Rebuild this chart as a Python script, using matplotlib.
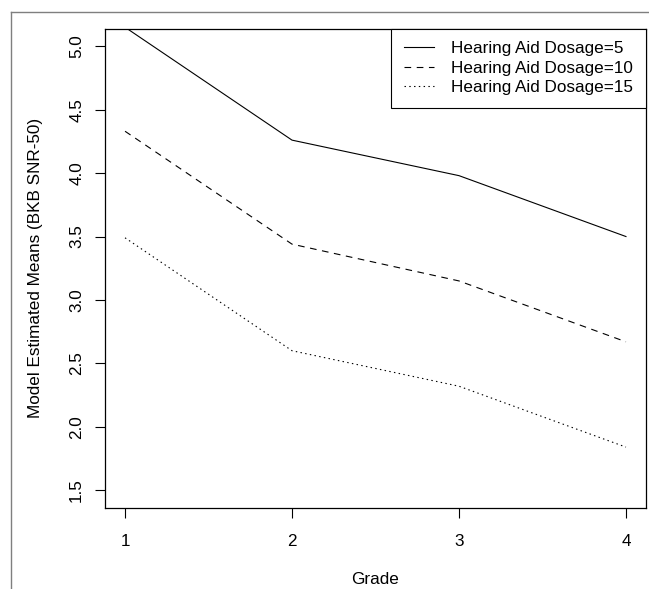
import matplotlib
matplotlib.use("Agg")
import matplotlib.pyplot as plt
from matplotlib.lines import Line2D

plt.rcParams['font.family'] = ['Liberation Sans', 'DejaVu Sans']

grade = [1, 2, 3, 4]
dosage_5 = [5.15, 4.26, 3.98, 3.50]
dosage_10 = [4.33, 3.44, 3.15, 2.67]
dosage_15 = [3.49, 2.60, 2.32, 1.84]
labels = ['Hearing Aid Dosage=5', 'Hearing Aid Dosage=10', 'Hearing Aid Dosage=15']
yticks = [1.5, 2.0, 2.5, 3.0, 3.5, 4.0, 4.5, 5.0]

fig = plt.figure(figsize=(6.49, 5.89), dpi=100)
ax = fig.add_axes([105 / 649, 1 - 508 / 589, 541 / 649, 479.5 / 589])

lw = 0.8
ax.plot(grade, dosage_5, color='black', lw=lw, linestyle='-', label=labels[0])
ax.plot(grade, dosage_10, color='black', lw=lw, linestyle=(0, (6, 5)), label=labels[1])
ax.plot(grade, dosage_15, color='black', lw=lw, linestyle=(0, (1.3, 3)), label=labels[2])

ax.set_xlim(0.88, 4.12)
ax.set_ylim(1.36, 5.14)
ax.set_xticks(grade)
ax.set_yticks(yticks)
ax.set_yticklabels([f'{v:.1f}' for v in yticks], rotation=90, va='center')
ax.tick_params(direction='out', length=7, width=0.8, labelsize=12.3, pad=8)
ax.tick_params(axis='x', pad=12)
for s in ax.spines.values():
    s.set_linewidth(0.9)

ax.set_xlabel('Grade', fontsize=12.3, labelpad=16)
ax.set_ylabel('Model Estimated Means (BKB SNR-50)', fontsize=12.3, labelpad=19)

leg = ax.legend(loc='upper right', borderaxespad=0, fancybox=False,
                edgecolor='black', framealpha=1, fontsize=12.3,
                handlelength=1.76, handletextpad=1.0, labelspacing=0.25,
                borderpad=0.75)
leg.get_frame().set_linewidth(0.8)

# outer grey frame (partly cut off)
fig.add_artist(Line2D([11 / 649, 1], [1 - 12 / 589, 1 - 12 / 589],
                      transform=fig.transFigure, color='#7f7f7f', lw=1))
fig.add_artist(Line2D([11 / 649, 11 / 649], [0, 1 - 12 / 589],
                      transform=fig.transFigure, color='#7f7f7f', lw=1))

fig.savefig('out.png', dpi=100)
